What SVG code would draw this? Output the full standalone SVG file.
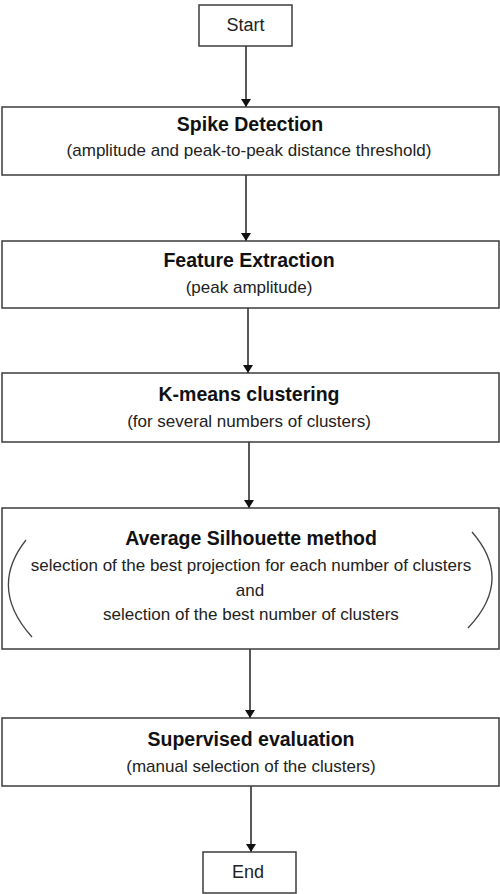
<svg xmlns="http://www.w3.org/2000/svg" width="500" height="894" viewBox="0 0 500 894">
<style>
.box{fill:#fff;stroke:#3c3c3c;stroke-width:1.5}
.t{font-family:"Liberation Sans",Arial,sans-serif;font-size:19.5px;font-weight:bold;fill:#111;text-anchor:middle}
.s{font-family:"Liberation Sans",Arial,sans-serif;font-size:17px;fill:#222;text-anchor:middle}
.c{stroke:#222;stroke-width:1.5;fill:none}
.arc{stroke:#444;stroke-width:1.3;fill:none}
</style>
<defs>
<marker id="ah" markerWidth="8" markerHeight="10" refX="8" refY="5" orient="auto" markerUnits="userSpaceOnUse" viewBox="0 0 8 10">
<path d="M0,0 L8,5 L0,10 z" fill="#111"/>
</marker>
</defs>
<g id="connectors">
<line class="c" x1="246" y1="46" x2="246" y2="107" marker-end="url(#ah)"/>
<line class="c" x1="246" y1="175" x2="246" y2="241" marker-end="url(#ah)"/>
<line class="c" x1="248" y1="308" x2="248" y2="373" marker-end="url(#ah)"/>
<line class="c" x1="249" y1="442" x2="249" y2="508" marker-end="url(#ah)"/>
<line class="c" x1="250" y1="649" x2="250" y2="718" marker-end="url(#ah)"/>
<line class="c" x1="251" y1="786" x2="251" y2="852" marker-end="url(#ah)"/>
</g>
<g id="start">
<rect class="box" x="199" y="5" width="93" height="41"/>
<text class="s" x="245.5" y="31" style="font-size:18px">Start</text>
</g>
<g id="spike">
<rect class="box" x="2" y="107" width="497" height="68"/>
<text class="t" x="250" y="131">Spike Detection</text>
<text class="s" x="249" y="156">(amplitude and peak-to-peak distance threshold)</text>
</g>
<g id="feature">
<rect class="box" x="2" y="241" width="497" height="67"/>
<text class="t" x="249" y="267">Feature Extraction</text>
<text class="s" x="249" y="293">(peak amplitude)</text>
</g>
<g id="kmeans">
<rect class="box" x="2" y="373" width="497" height="69"/>
<text class="t" x="249" y="401">K-means clustering</text>
<text class="s" x="249" y="427">(for several numbers of clusters)</text>
</g>
<g id="silhouette">
<rect class="box" x="2" y="508" width="497" height="141"/>
<path class="arc" d="M26,540 Q-12,588 32,637"/>
<path class="arc" d="M472,532 Q514,580 468,628"/>
<text class="t" x="251" y="545">Average Silhouette method</text>
<text class="s" x="251" y="571">selection of the best projection for each number of clusters</text>
<text class="s" x="250" y="596">and</text>
<text class="s" x="251" y="620">selection of the best number of clusters</text>
</g>
<g id="supervised">
<rect class="box" x="2" y="718" width="497" height="68"/>
<text class="t" x="251" y="746">Supervised evaluation</text>
<text class="s" x="251" y="772">(manual selection of the clusters)</text>
</g>
<g id="end">
<rect class="box" x="203" y="852" width="93" height="41"/>
<text class="s" x="248" y="878" style="font-size:18px">End</text>
</g>
</svg>
